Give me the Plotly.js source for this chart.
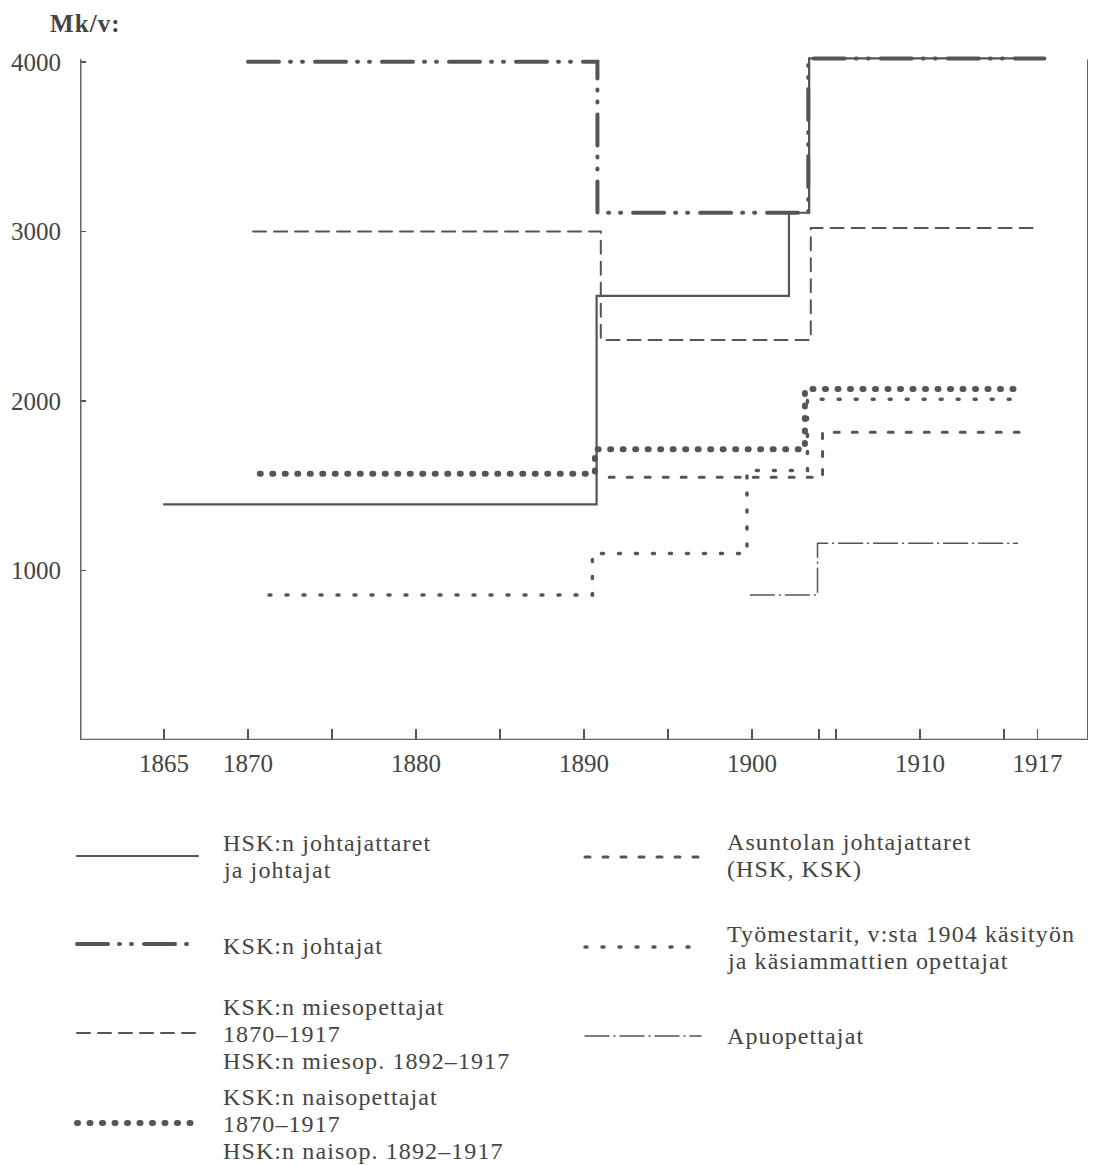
<!DOCTYPE html>
<html>
<head>
<meta charset="utf-8">
<script src="https://cdn.plot.ly/plotly-3.0.1.min.js"></script>
<style>
  html, body { margin: 0; padding: 0; background: #fff; }
  #chart { width: 1094px; height: 1165px; }
  .js-line, .shapelayer path { stroke-linecap: round; }
  .annotation-text { letter-spacing: 1.1px; }
</style>
</head>
<body>
<div id="chart"></div>
<script>
// ---- Data (years and Mk/v) ----
const hskJohtajatYears   = [1865, 1890.75, 1902.2, 1903.4, 1917.4];
const hskJohtajatValues  = [1390, 2620, 3110, 4020, 4020];

const kskJohtajatYears   = [1870, 1890.8, 1903.35, 1917.4];
const kskJohtajatValues  = [4000, 3110, 4020, 4020];

const miesopYears        = [1870.3, 1891.0, 1903.5, 1916.7];
const miesopValues       = [3000, 2360, 3020, 3020];

const naisopYears        = [1870.7, 1890.65, 1903.15, 1916.2];
const naisopValues       = [1570, 1715, 2070, 2070];

const asuntolaYears      = [1891.5, 1904.2, 1915.9];
const asuntolaValues     = [1550, 1815, 1815];

const tyomestaritYears   = [1871.25, 1890.5, 1899.7, 1903.3, 1915.6];
const tyomestaritValues  = [855, 1100, 1590, 2010, 2010];

const apuopYears         = [1899.9, 1903.9, 1915.8];
const apuopValues        = [855, 1160, 1160];

const xTickVals = [1865, 1870, 1875, 1880, 1885, 1890, 1895, 1900, 1904, 1905, 1910, 1915, 1917];
const xTickText = ['1865', '1870', '', '1880', '', '1890', '', '1900', '', '', '1910', '', '1917'];
const yTickVals = [1000, 2000, 3000, 4000];
const yTickText = ['1000', '2000', '3000', '4000'];

const yAxisLabel = 'Mk/v:';

// ---- Styles ----
const INK = '#555';
const TXT = '#444';
const FONT = 'Liberation Serif, Times New Roman, serif';

const styles = {
  hsk:   { width: 2.2, dash: 'solid' },
  ksk:   { width: 4,   dash: '31px,11px,1px,11px,1px,12px' },
  mies:  { width: 2,   dash: '13px,8px' },
  nais:  { width: 6,   dash: '1px,11.5px' },
  asun:  { width: 3,   dash: '5px,13px' },
  tyo:   { width: 3.5, dash: '2px,15px' },
  apu:   { width: 1.5, dash: '24px,5px,1px,5px' }
};

function trace(x, y, st, name) {
  return {
    type: 'scatter', mode: 'lines', x: x, y: y, name: name,
    line: { shape: 'hv', color: INK, width: st.width, dash: st.dash },
    hoverinfo: 'skip', showlegend: false
  };
}

const data = [
  trace(tyomestaritYears, tyomestaritValues, styles.tyo, 'Työmestarit'),
  trace(apuopYears, apuopValues, styles.apu, 'Apuopettajat'),
  trace(asuntolaYears, asuntolaValues, styles.asun, 'Asuntolan johtajattaret'),
  trace(naisopYears, naisopValues, styles.nais, 'KSK:n naisopettajat'),
  trace(miesopYears, miesopValues, styles.mies, 'KSK:n miesopettajat'),
  trace(hskJohtajatYears, hskJohtajatValues, styles.hsk, 'HSK:n johtajattaret ja johtajat'),
  trace(kskJohtajatYears, kskJohtajatValues, styles.ksk, 'KSK:n johtajat')
];

// ---- Layout geometry helpers (pixel -> paper) ----
const L = 80, R = 6, T = 11, B = 425, W = 1094, H = 1165;
const PW = W - L - R, PH = H - T - B;
function px2x(px) { return (px - L) / PW; }
function px2y(py) { return (H - B - py) / PH; }

const shapes = [
  // axis frame
  { type: 'line', xref: 'x', yref: 'y', x0: 1860, x1: 1920, y0: 0, y1: 0, line: { color: '#666', width: 2.5 } },
  { type: 'line', xref: 'x', yref: 'y', x0: 1860, x1: 1860, y0: 0, y1: 4010, line: { color: '#666', width: 3 } },
  { type: 'line', xref: 'x', yref: 'y', x0: 1920, x1: 1920, y0: 0, y1: 4010, line: { color: '#666', width: 2 } }
];

function legendLine(x0, x1, py, st) {
  shapes.push({ type: 'line', xref: 'paper', yref: 'paper',
    x0: px2x(x0), x1: px2x(x1), y0: px2y(py), y1: px2y(py),
    line: { color: INK, width: st.width, dash: st.dash } });
}
legendLine(77, 198, 856, styles.hsk);
legendLine(77, 198, 944, styles.ksk);
legendLine(77, 198, 1033, styles.mies);
legendLine(77, 198, 1123, styles.nais);
legendLine(585, 701, 857, styles.asun);
legendLine(585, 701, 947, styles.tyo);
legendLine(585, 701, 1036, styles.apu);

const annotations = [
  { xref: 'paper', yref: 'paper', x: px2x(48), y: px2y(24), xanchor: 'left', yanchor: 'middle',
    text: '<b>' + yAxisLabel + '</b>', showarrow: false, font: { family: FONT, size: 25, color: TXT } }
];
function legendText(px, py, txt) {
  annotations.push({ xref: 'paper', yref: 'paper', x: px2x(px), y: px2y(py),
    xanchor: 'left', yanchor: 'middle', text: txt, showarrow: false,
    font: { family: FONT, size: 24, color: TXT } });
}
legendText(221, 843, 'HSK:n johtajattaret');
legendText(221, 870, 'ja johtajat');
legendText(221, 946, 'KSK:n johtajat');
legendText(221, 1007, 'KSK:n miesopettajat');
legendText(221, 1034, '1870–1917');
legendText(221, 1061, 'HSK:n miesop. 1892–1917');
legendText(221, 1097, 'KSK:n naisopettajat');
legendText(221, 1124, '1870–1917');
legendText(221, 1151, 'HSK:n naisop. 1892–1917');
legendText(725, 842, 'Asuntolan johtajattaret');
legendText(725, 869, '(HSK, KSK)');
legendText(725, 934, 'Työmestarit, v:sta 1904 käsityön');
legendText(725, 961, 'ja käsiammattien opettajat');
legendText(725, 1036, 'Apuopettajat');

const layout = {
  width: W, height: H,
  margin: { l: L, r: R, t: T, b: B, pad: 0 },
  paper_bgcolor: '#fff', plot_bgcolor: '#fff',
  showlegend: false,
  font: { family: FONT, color: TXT },
  xaxis: {
    range: [1860, 1920], showgrid: false, zeroline: false, showline: false,
    tickmode: 'array', tickvals: xTickVals, ticktext: xTickText,
    ticks: 'inside', ticklen: 11, tickwidth: 1.5, tickcolor: '#555',
    tickfont: { family: FONT, size: 25, color: TXT }, ticklabelstandoff: 6
  },
  yaxis: {
    range: [0, 4300], showgrid: false, zeroline: false, showline: false,
    tickmode: 'array', tickvals: yTickVals, ticktext: yTickText,
    ticks: 'inside', ticklen: 6, tickwidth: 1.5, tickcolor: '#555',
    tickfont: { family: FONT, size: 25, color: TXT }, ticklabelstandoff: 18
  },
  shapes: shapes,
  annotations: annotations
};

Plotly.newPlot('chart', data, layout, { staticPlot: true, displayModeBar: false });
</script>
</body>
</html>
